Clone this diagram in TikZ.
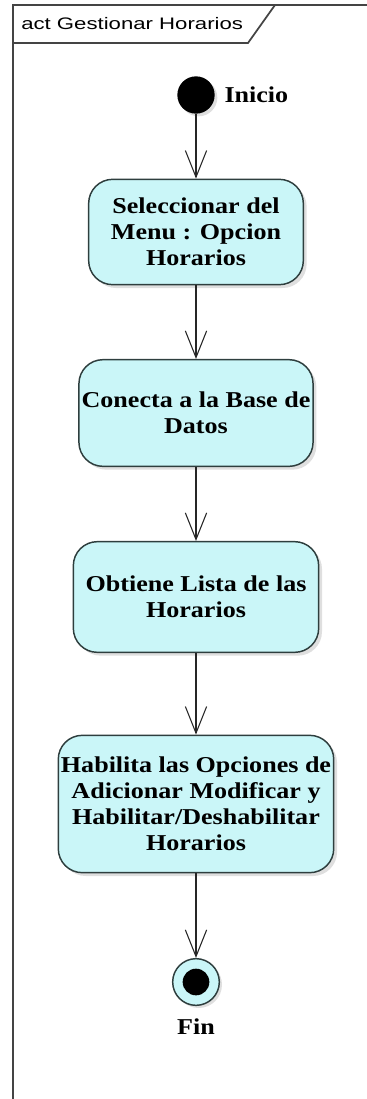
\documentclass[tikz,border=0pt]{standalone}
\usepackage{fontspec}
\setmainfont[FakeStretch=1.15]{Liberation Serif}
\newfontfamily\tabfont[FakeStretch=1.33]{Liberation Sans}
\usetikzlibrary{arrows.meta,positioning,shadows}
\definecolor{afill}{HTML}{CAF6F8}
\definecolor{aedge}{HTML}{2E3E3E}
\definecolor{aframe}{HTML}{444444}

\begin{document}
\begin{tikzpicture}[x=0.75pt, y=-0.75pt,
    every node/.style={font=\fontsize{17pt}{19.5pt}\selectfont\bfseries},
    actbox/.style={draw=aedge, line width=1.1pt, fill=afill, rounded corners=18pt,
      align=center, inner sep=2pt,
      drop shadow={shadow xshift=2.5pt, shadow yshift=-2.5pt, opacity=0.25}},
    flow/.style={draw=black!85, line width=0.8pt, -{Straight Barb[length=20pt, width=16pt]}}]
    \useasboundingbox (0,0) rectangle (367,1099);
    % frame
    \draw[aframe, line width=1.6pt] (13,1099) -- (13,5) -- (367,5);
    \draw[aframe, line width=1.3pt] (13,43) -- (248,43) -- (275,5);
    \node[anchor=west, inner sep=0pt, font=\tabfont\fontsize{12.5pt}{14pt}\selectfont] (title) at (21,24)
      {act Gestionar Horarios};
    % start and end
    \node[circle, fill=black, minimum size=28pt, inner sep=0pt,
      drop shadow={shadow xshift=2pt, shadow yshift=-2pt, opacity=0.25}] (ini) at (196,95) {};
    \node[right=7pt of ini, inner sep=0pt] (iniLab) {Inicio};
    \node[circle, draw=aedge, line width=1.1pt, fill=afill, minimum size=35pt, inner sep=0pt,
      drop shadow={shadow xshift=2pt, shadow yshift=-2pt, opacity=0.25}] (fin) at (196,982) {};
    \fill[black] (fin) circle (10pt);
    \node[below=9pt of fin, inner sep=0pt] (finLab) {Fin};
    % actions
    \node[actbox, minimum width=161pt, minimum height=79pt] (sel) at (196,232)
      {Seleccionar del\\Menu : Opcion\\Horarios};
    \node[actbox, minimum width=171pt, minimum height=80pt] (con) at (196,413)
      {Conecta a la Base de\\Datos};
    \node[actbox, minimum width=184pt, minimum height=83pt] (obt) at (196,597)
      {Obtiene Lista de las\\Horarios};
    \node[actbox, minimum width=202pt, minimum height=103pt] (hab) at (196,804)
      {Habilita las Opciones de\\Adicionar Modificar y\\Habilitar/Deshabilitar\\Horarios};
    % flows
    \draw[flow] (ini) -- (sel);
    \draw[flow] (sel) -- (con);
    \draw[flow] (con) -- (obt);
    \draw[flow] (obt) -- (hab);
    \draw[flow] (hab) -- (fin);
  \end{tikzpicture}
\end{document}
